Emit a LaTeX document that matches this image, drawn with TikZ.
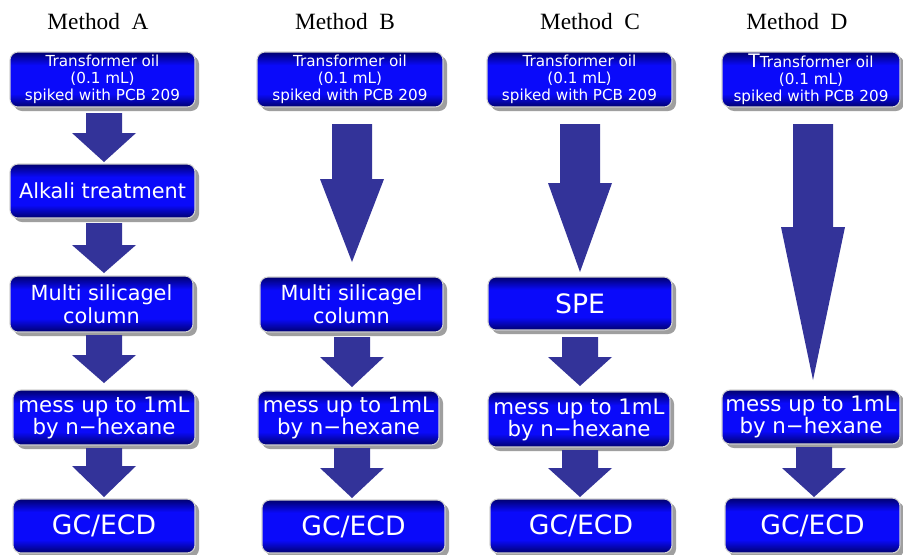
\documentclass[tikz,border=0pt]{standalone}
\usepackage{fontspec}
\setmainfont{Liberation Serif}
\newfontfamily\boxfont{DejaVu Sans}
\usetikzlibrary{shadows}
\definecolor{arrowc}{RGB}{51,51,153}
\definecolor{boxdark}{RGB}{0,0,110}
\definecolor{boxbright}{RGB}{10,10,250}
\pgfdeclareverticalshading{boxshade}{100bp}{color(0bp)=(boxdark); color(25bp)=(boxdark); color(37bp)=(boxbright); color(63bp)=(boxbright); color(75bp)=(boxdark); color(100bp)=(boxdark)}
% block arrow: x centre, top, neck, tip, shaft half width, head half width
\newcommand\blockarrow[6]{\fill[arrowc] (#1-#5,#2) -- (#1+#5,#2) -- (#1+#5,#3) -- (#1+#6,#3) -- (#1,#4) -- (#1-#6,#3) -- (#1-#5,#3) -- cycle;}
\tikzset{
  box/.style={rounded corners=6pt, shading=boxshade, draw=gray!35, line width=0.8pt,
    text=white, align=center, inner sep=0pt,
    drop shadow={shadow xshift=3pt, shadow yshift=-3pt, fill=gray!75, opacity=1}},
  wh/.style 2 args={minimum width=#1*0.75pt, minimum height=#2*0.75pt},
  small/.style={font={\boxfont\fontsize{11.4}{12.9}\selectfont}},
  mid/.style={font={\boxfont\fontsize{15.6}{17.2}\selectfont}},
  mess/.style={font={\boxfont\fontsize{16}{16.5}\selectfont}},
  big/.style={font={\boxfont\fontsize{20}{22}\selectfont}},
  title/.style={anchor=base, font=\fontsize{17.5}{20}\selectfont}
}
\begin{document}
\begin{tikzpicture}[x=0.75pt, y=-0.75pt]
\useasboundingbox (0,0) rectangle (903,554);
\fill[white] (0,0) rectangle (903,554);
% titles
\node[title] (tA) at (98,29) {Method\ \ A};
\node[title] (tB) at (345,29) {Method\ \ B};
\node[title] (tC) at (590,29) {Method\ \ C};
\node[title] (tD) at (797,29) {Method\ \ D};
% Method A
\node[box, small, wh={185}{55}] (a1) at (102.5,79.5) {Transformer oil\\(0.1 mL)\\spiked with PCB 209};
\node[box, mid, wh={185}{54}] (a2) at (102.5,191) {Alkali treatment};
\node[box, mid, wh={183}{56}] (a3) at (101.5,304) {Multi silicagel\\column};
\node[box, mess, wh={182}{55}] (a4) at (104,417.5) {mess up to 1mL\\by n−hexane};
\node[box, big, wh={182}{54}] (a5) at (104,526) {GC/ECD};
% Method B
\node[box, small, wh={186}{55}] (b1) at (350,79.5) {Transformer oil\\(0.1 mL)\\spiked with PCB 209};
\node[box, mid, wh={183}{55}] (b3) at (351.5,304.5) {Multi silicagel\\column};
\node[box, mess, wh={181}{54}] (b4) at (348.5,418) {mess up to 1mL\\by n−hexane};
\node[box, big, wh={183}{53}] (b5) at (353.5,526.5) {GC/ECD};
% Method C
\node[box, small, wh={185}{55}] (c1) at (579.5,79.5) {Transformer oil\\(0.1 mL)\\spiked with PCB 209};
\node[box, big, wh={184}{53}] (c3) at (580,303.5) {SPE};
\node[box, mess, wh={182}{55}] (c4) at (579,419.5) {mess up to 1mL\\by n−hexane};
\node[box, big, wh={182}{54}] (c5) at (581,526) {GC/ECD};
% Method D
\node[box, small, wh={178}{55}] (d1) at (811,79.5) {{\fontsize{14}{14}\selectfont T}Transformer oil\\(0.1 mL)\\spiked with PCB 209};
\node[box, mess, wh={178}{54}] (d4) at (811,417) {mess up to 1mL\\by n−hexane};
\node[box, big, wh={175}{55}] (d5) at (812.5,525.5) {GC/ECD};
% arrows A: a1->a2->a3->a4->a5
\blockarrow{104}{113}{133}{162}{18}{32}
\blockarrow{104}{223}{245}{273}{18}{32}
\blockarrow{104}{335}{355}{383}{18}{32}
\blockarrow{104}{448}{466}{497}{18}{32}
% arrows B: b1->b3->b4->b5
\blockarrow{352}{124}{179}{262}{20}{32}
\blockarrow{352}{337}{357}{387}{18}{32}
\blockarrow{352}{448}{468}{498}{18}{32}
% arrows C: c1->c3->c4->c5
\blockarrow{580}{124}{183}{272}{20}{32}
\blockarrow{580}{337}{357}{386}{18}{32}
\blockarrow{580}{450}{468}{497}{18}{32}
% arrows D: d1->d4->d5
\blockarrow{813}{124}{227}{380}{20}{32}
\blockarrow{814}{447}{468}{497}{18}{32}
\end{tikzpicture}
\end{document}
